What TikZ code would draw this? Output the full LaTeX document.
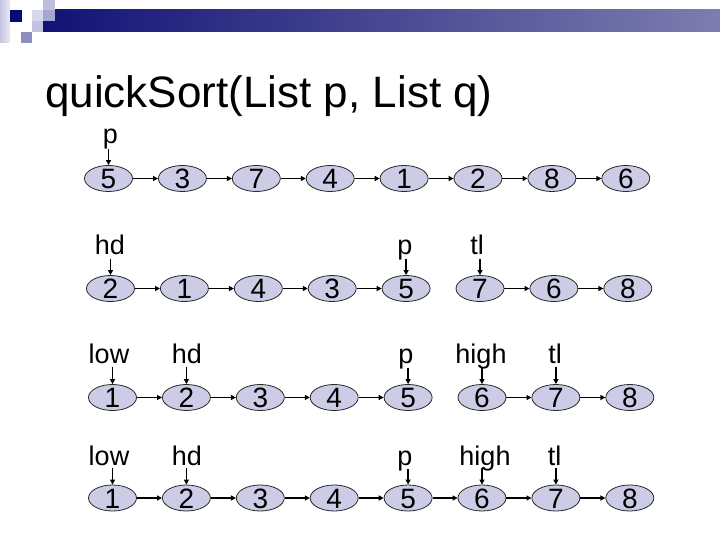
\documentclass[tikz,border=0pt]{standalone}
\usepackage{fontspec}
\setmainfont{Liberation Sans}
\usetikzlibrary{shapes.geometric,arrows.meta,calc}
\definecolor{cellfill}{RGB}{204,204,230}
\definecolor{cellline}{RGB}{40,40,40}
\definecolor{navy}{RGB}{18,18,118}
\definecolor{barend}{RGB}{125,125,175}
\definecolor{sqA}{RGB}{190,190,220}
\definecolor{sqB}{RGB}{215,215,235}
\definecolor{sqC}{RGB}{165,165,205}
\definecolor{sqD}{RGB}{195,195,225}
\definecolor{sqE}{RGB}{140,140,190}
\definecolor{sqDark}{RGB}{10,10,110}
\definecolor{stripA}{RGB}{195,195,222}
\definecolor{stripB}{RGB}{235,235,245}
\begin{document}
\begin{tikzpicture}[x=1pt,y=-1pt,
  cell/.style={ellipse, draw=cellline, line width=0.8pt, fill=cellfill,
    minimum width=48pt, minimum height=26pt, inner sep=0pt},
  digit/.style={font=\fontsize{28}{28}\selectfont, inner sep=0pt, text=black,
    text height=20pt, text depth=0pt},
  lab/.style={font=\fontsize{27}{27}\selectfont, anchor=base, inner sep=0pt},
  arr/.style={-{Triangle[length=5pt,width=5pt]}, line width=1.3pt, black},
  titlefont/.style={font=\fontsize{44}{48}\selectfont}]
\useasboundingbox (0,0) rectangle (720,540);
\fill[white] (0,0) rectangle (720,540);
% header decoration
\shade[left color=stripA, right color=stripB] (0,0) rectangle (10,43);
\shade[left color=navy, right color=barend] (43,10) rectangle (720,32);
\fill[sqDark] (10,10) rectangle (22,22);
\fill[sqA] (43,0) rectangle (55,10);
\fill[sqB] (32,10) rectangle (43,21);
\fill[sqC] (43,10) rectangle (55,21);
\fill[sqD] (32,21) rectangle (43,32);
\fill[sqE] (21,32) rectangle (32,43);
% title
\node[titlefont, anchor=base west, inner sep=0pt] (title) at (45,108) {quickSort(List p, List q)};
% row 1
\foreach \v [count=\i] in {5,3,7,4,1,2,8,6}
  \node[cell, label={[digit]center:\v}] (a\i) at ({108.5+73.9*(\i-1)},178.5) {};
\foreach \i/\j in {1/2,2/3,3/4,4/5,5/6,6/7,7/8}
  \draw[arr] (a\i) -- (a\j);
\node[lab] (ap) at (110.5,144) {p};
\draw[arr] ($(a1.north |- ap.base)+(0,5)$) -- (a1.north);
% row 2
\foreach \v [count=\i] in {2,1,4,3,5,7,6,8}
  \node[cell, label={[digit]center:\v}] (b\i) at ({110.5+73.9*(\i-1)},288.5) {};
\foreach \i/\j in {1/2,2/3,3/4,4/5,6/7,7/8}
  \draw[arr] (b\i) -- (b\j);
\node[lab] (bhd) at (110,254.5) {hd};
\node[lab] (bp) at (405,254.5) {p};
\node[lab] (btl) at (477,254.5) {tl};
\draw[arr] ($(b1.north |- bhd.base)+(0,4)$) -- (b1.north);
\draw[arr] ($(b5.north |- bp.base)+(0,4)$) -- (b5.north);
\draw[arr] ($(b6.north |- btl.base)+(0,4)$) -- (b6.north);
% row 3
\foreach \v [count=\i] in {1,2,3,4,5,6,7,8}
  \node[cell, label={[digit]center:\v}] (c\i) at ({112.5+73.9*(\i-1)},397.5) {};
\foreach \i/\j in {1/2,2/3,3/4,4/5,6/7,7/8}
  \draw[arr] (c\i) -- (c\j);
\node[lab] (clow) at (109,363.5) {low};
\node[lab] (chd) at (187,363.5) {hd};
\node[lab] (cp) at (406,363.5) {p};
\node[lab] (chigh) at (481,363.5) {high};
\node[lab] (ctl) at (555,363.5) {tl};
\draw[arr] ($(c1.north |- clow.base)+(0,3)$) -- (c1.north);
\draw[arr] ($(c2.north |- chd.base)+(0,3)$) -- (c2.north);
\draw[arr] ($(c5.north |- cp.base)+(0,4)$) -- (c5.north);
\draw[arr] ($(c6.north |- chigh.base)+(0,3)$) -- (c6.north);
\draw[arr] ($(c7.north |- ctl.base)+(0,3)$) -- (c7.north);
% row 4
\foreach \v [count=\i] in {1,2,3,4,5,6,7,8}
  \node[cell, label={[digit]center:\v}] (d\i) at ({112.5+73.9*(\i-1)},498) {};
\foreach \i/\j in {1/2,2/3,3/4,4/5,5/6,6/7,7/8}
  \draw[arr] (d\i) -- (d\j);
\node[lab] (dlow) at (109,465) {low};
\node[lab] (dhd) at (187,465) {hd};
\node[lab] (dp) at (405,465) {p};
\node[lab] (dhigh) at (485,465) {high};
\node[lab] (dtl) at (554.5,465) {tl};
\draw[arr] ($(d1.north |- dlow.base)+(0,3)$) -- (d1.north);
\draw[arr] ($(d2.north |- dhd.base)+(0,3)$) -- (d2.north);
\draw[arr] ($(d5.north |- dp.base)+(0,4)$) -- (d5.north);
\draw[arr] ($(d6.north |- dhigh.base)+(0,3)$) -- (d6.north);
\draw[arr] ($(d7.north |- dtl.base)+(0,3)$) -- (d7.north);
\end{tikzpicture}
\end{document}
